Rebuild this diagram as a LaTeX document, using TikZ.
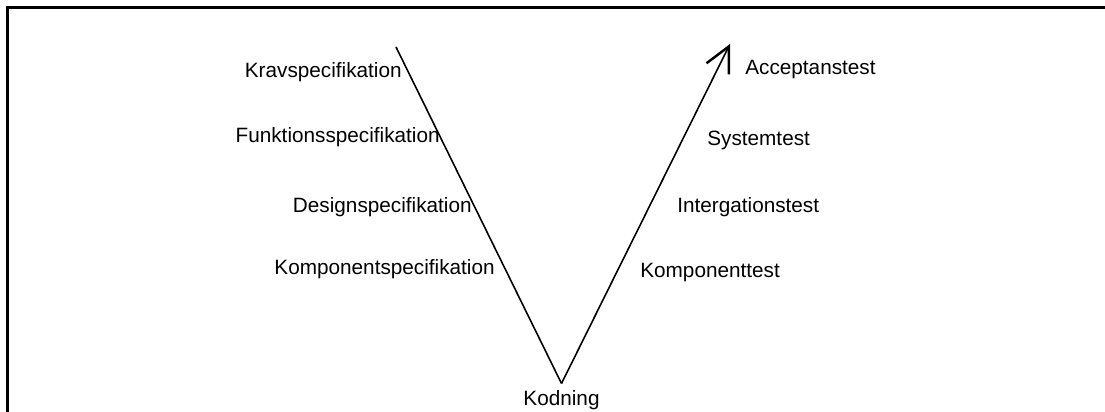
\documentclass[tikz,border=0pt]{standalone}
\usepackage{fontspec}
\setmainfont{Liberation Sans}
\usepackage{tikz}
\usetikzlibrary{arrows.meta,positioning}
\tikzstyle{spec} = [anchor=base east, inner sep=0pt, font=\fontsize{11.8}{14}\selectfont]
\tikzstyle{test} = [anchor=base west, inner sep=0pt, font=\fontsize{11.8}{14}\selectfont]
\tikzstyle{code} = [anchor=base, inner sep=0pt, font=\fontsize{11.8}{14}\selectfont]
\tikzstyle{vline} = [draw, line width=0.9pt, color=black]
\tikzstyle{frame} = [draw, line width=1.5pt, color=black]
\newcommand{\spec}[2]{node (s#1) [spec] {#2}}
\newcommand{\test}[2]{node (t#1) [test] {#2}}

\begin{document}
\begin{tikzpicture}
\useasboundingbox (0,0) rectangle (22.1,8.24);
% Window frame (only top and left edges visible)
\path [frame] (0.15,0) -- (0.15,8.09) -- (22.1,8.09);
% Corners of the V
\coordinate (v1) at (7.92,7.30);
\coordinate (v2) at (11.23,0.57);
\coordinate (v3) at (14.60,7.36);
\path [vline] (v1) -- (v2);
\path [vline, -{Straight Barb[length=5mm,width=5mm,line width=1.4pt]}] (v2) -- (v3);
% Specification side
\path (v1)+(0.12,-0.62) \spec{1}{Kravspecifikation};
\path (v1)+(0.88,-1.92) \spec{2}{Funktionsspecifikation};
\path (v1)+(1.52,-3.32) \spec{3}{Designspecifikation};
\path (v1)+(1.98,-4.56) \spec{4}{Komponentspecifikation};
% Test side
\path (v3)+(0.30,-0.62) \test{1}{Acceptanstest};
\path (v3)+(-0.46,-2.04) \test{2}{Systemtest};
\path (v3)+(-1.06,-3.38) \test{3}{Intergationstest};
\path (v3)+(-1.80,-4.68) \test{4}{Komponenttest};
% Bottom
\path (v2)+(0,-0.45) node (k) [code] {Kodning};
\end{tikzpicture}
\end{document}
